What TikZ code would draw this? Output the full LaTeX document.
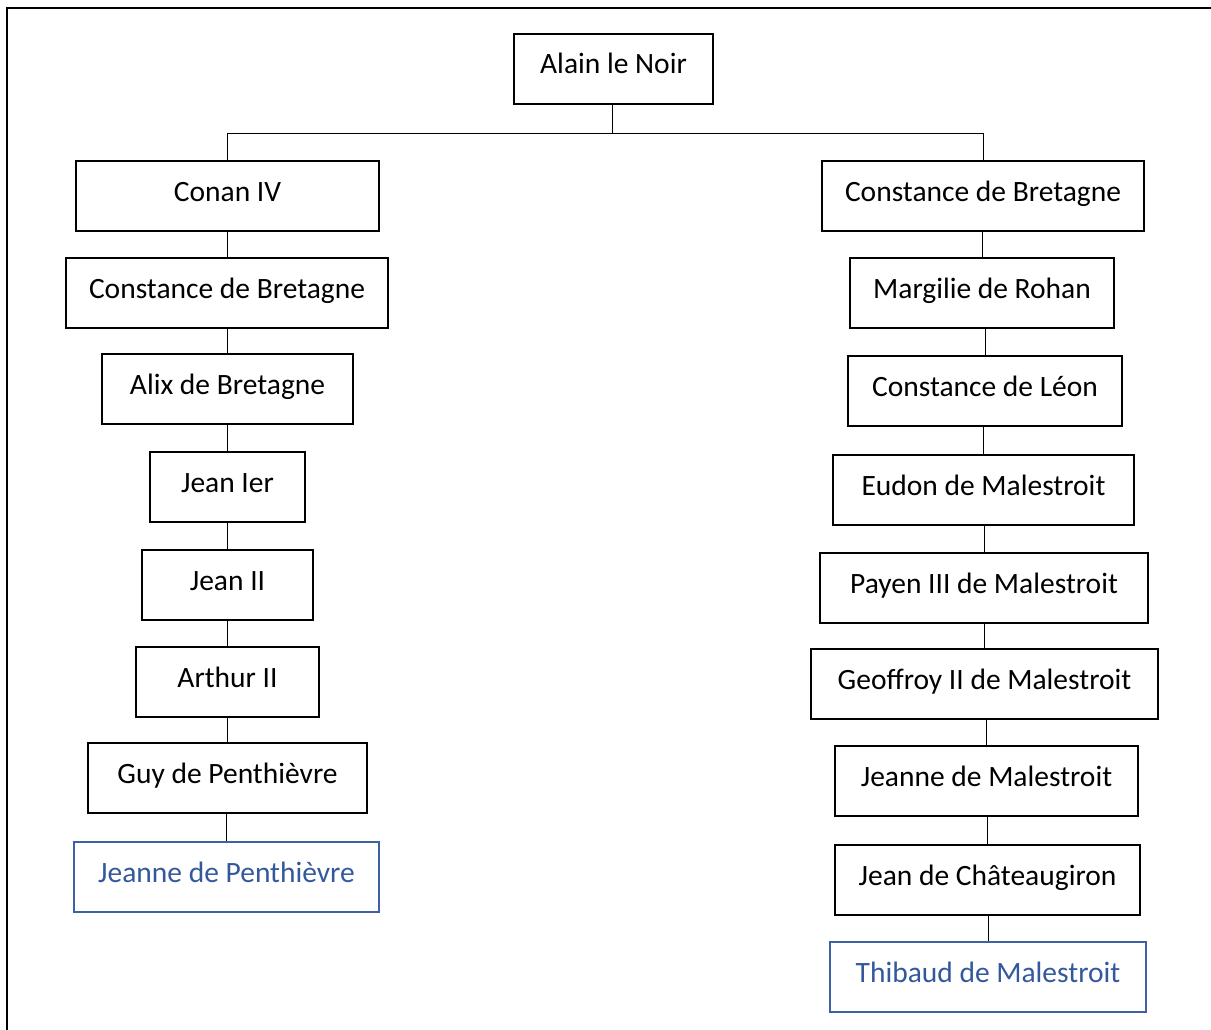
\documentclass[tikz,border=0pt]{standalone}
\usepackage{fontspec}
\setmainfont{Carlito}
\definecolor{tblue}{RGB}{52,88,156}
\definecolor{bblue}{RGB}{62,96,164}
\tikzset{
  pbox/.style={draw, line width=1.8pt, minimum height=70pt, inner sep=0pt,
    text height=30pt, text depth=20pt, font=\fontsize{29.5}{35}\selectfont},
  bluebox/.style={pbox, draw=bblue, text=tblue},
  conn/.style={line width=0.9pt},
}
\begin{document}
\begin{tikzpicture}[x=1pt,y=-1pt]
\useasboundingbox (0,0) rectangle (1211,1030);
\clip (0,0) rectangle (1211,1030);
\draw[line width=1.6pt] (7,8) rectangle (1230,1050);
% root
\node[pbox, minimum width=199pt] (alain) at (613.5,69) {Alain le Noir};
% left column
\node[pbox, minimum width=303pt] (conan) at (227.5,196) {Conan IV};
\node[pbox, minimum width=322pt] (cdbA) at (227,293) {Constance de Bretagne};
\node[pbox, minimum width=251pt] (alix) at (227.5,389) {Alix de Bretagne};
\node[pbox, minimum width=155pt] (jeanI) at (227.5,487) {Jean Ier};
\node[pbox, minimum width=171pt] (jeanII) at (227.5,585) {Jean II};
\node[pbox, minimum width=183pt] (arthur) at (227.5,682) {Arthur II};
\node[pbox, minimum width=279pt] (guy) at (227.5,778) {Guy de Penthièvre};
\node[bluebox, minimum width=305pt] (jeanneP) at (226.5,877) {Jeanne de Penthièvre};
% right column
\node[pbox, minimum width=322pt] (cdbB) at (983,196) {Constance de Bretagne};
\node[pbox, minimum width=264pt] (margilie) at (982,293) {Margilie de Rohan};
\node[pbox, minimum width=274pt] (cleon) at (985,391) {Constance de Léon};
\node[pbox, minimum width=301pt] (eudon) at (983.5,490) {Eudon de Malestroit};
\node[pbox, minimum width=328pt] (payen) at (984,588) {Payen III de Malestroit};
\node[pbox, minimum width=347pt] (geoffroy) at (984.5,684) {Geoffroy II de Malestroit};
\node[pbox, minimum width=303pt] (jeanneM) at (986.5,781) {Jeanne de Malestroit};
\node[pbox, minimum width=305pt] (jeanC) at (987.5,880) {Jean de Châteaugiron};
\node[bluebox, minimum width=316pt] (thibaud) at (988,977) {Thibaud de Malestroit};
% connectors
\coordinate (bar) at (612,133);
\draw[conn] (alain.south -| bar) -- (bar);
\draw[conn] (conan.north) -- (conan.north |- bar) -- (cdbB.north |- bar) -- (cdbB.north);
\foreach \p/\c in {conan/cdbA, cdbA/alix, alix/jeanI, jeanI/jeanII, jeanII/arthur, arthur/guy, guy/jeanneP,
  cdbB/margilie, margilie/cleon, cleon/eudon, eudon/payen, payen/geoffroy, geoffroy/jeanneM, jeanneM/jeanC, jeanC/thibaud}
  \draw[conn] (\c.north) -- (\c.north |- \p.south);
\end{tikzpicture}
\end{document}
